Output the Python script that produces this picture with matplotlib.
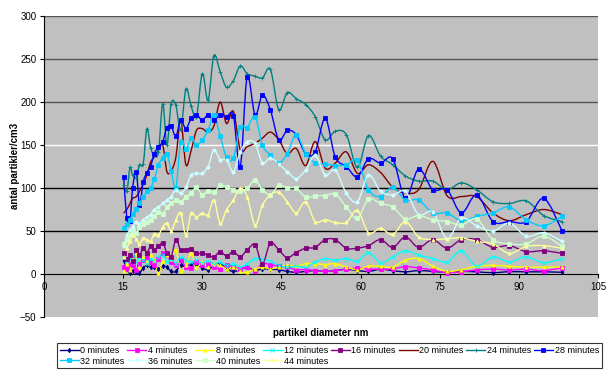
import matplotlib
matplotlib.use('Agg')
import matplotlib.pyplot as plt
from matplotlib.path import Path
from matplotlib.patches import PathPatch
from matplotlib.lines import Line2D

plt.rcParams['font.family'] = ['Liberation Sans', 'DejaVu Sans']

# SMPS channel midpoints (nm)
diameter = [15.1, 15.7, 16.3, 16.8, 17.5, 18.1, 18.8, 19.5, 20.2, 20.9, 21.7, 22.5, 23.3, 24.1,
            25.0, 25.9, 26.9, 27.9, 28.9, 30.0, 31.1, 32.2, 33.4, 34.6, 35.9, 37.2, 38.5, 40.0,
            41.4, 42.9, 44.5, 46.1, 47.8, 49.6, 51.4, 53.3, 55.2, 57.3, 59.4, 61.5, 63.8, 66.1,
            68.5, 71.0, 73.7, 76.4, 79.1, 82.0, 85.1, 88.2, 91.4, 94.7, 98.2]

min_0 = [16, 6, 1, 4, 2, 1, 7, 10, 8, 8.5, 6, 9, 8, 3, 3, 10.5, 8, 12, 12, 7, 5, 10, 12, 6, 3, 5,
         8, 4, 6, 5.5, 5, 3, 2, 3, 4, 3, 4, 5.5, 4, 3, 5.5, 4, 2.5, 4, 3, 2, 3, 2.5, 1.5, 2.7,
         2.5, 2.5, 2]
min_4 = [8, 6, 12, 10, 5, 12, 16, 20, 14, 10, 18, 24, 22, 14, 10, 16, 8, 7, 14, 10, 12, 8, 6, 10,
         8, 6, 8, 4, 12, 11, 9, 8, 5, 5, 4, 3, 4, 5.5, 7, 6, 5.5, 6, 8.5, 7, 4.6, 1.5, 2.7, 4.6,
         5.8, 4.6, 5.5, 3.9, 7.3]
min_8 = [3, 12, 5, 18, 24, 8, 20, 14, 22, 16, 1, 15, 22, 18, 28, 3, 10, 24, 8, 14, 8, 12, 10, 6,
         8, 3, 2, 6, 8, 6, 8, 10, 9, 12, 12, 11, 12, 8, 5, 9, 9, 8, 16, 18, 9, 3, 5, 9, 10, 9, 8,
         8, 8]
min_12 = [20, 15, 18, 22, 14, 20, 16, 12, 18, 15, 20, 22, 14, 18, 12, 20, 16, 14, 16, 13, 15, 12,
          14, 10, 12, 8, 12, 18, 17, 15, 10, 8, 9, 8, 14, 18, 16, 18, 15, 25, 13, 20, 27, 22, 18,
          14, 27, 9, 20, 14, 20, 13, 18]
min_16 = [24, 18, 22, 15, 28, 22, 30, 25, 32, 28, 32, 36, 25, 20, 40, 28, 28, 29, 24, 24, 22, 20,
          26, 21, 26, 20, 28, 34, 12, 36, 28, 19, 25, 30, 31, 40, 40, 30, 30, 33, 40, 31, 43, 31,
          40, 30, 40, 40, 31, 33, 26, 27, 24]
min_20 = [71, 75, 82, 88, 90, 96, 105, 115, 130, 136, 144, 150, 119, 120, 136, 179, 127, 144, 167,
          169, 165, 172, 200, 175, 189, 144, 148, 152, 158, 165, 156, 140, 146, 126, 154, 123, 129,
          142, 117, 127, 118, 101, 94, 98, 131, 91, 90, 90, 71, 62, 69, 75, 69]
min_24 = [104, 96, 124, 115, 112, 127, 128, 169, 147, 138, 142, 198, 150, 198, 196, 167, 215, 195,
          183, 233, 202, 254, 235, 217, 225, 242, 233, 230, 228, 238, 191, 211, 204, 197, 183, 156,
          166, 162, 124, 161, 137, 127, 114, 108, 108, 98, 106, 98, 84, 82, 85, 68, 61]
min_28 = [113, 65, 62, 100, 119, 80, 107, 118, 125, 140, 148, 154, 170, 172, 160, 179, 169, 181,
          185, 179, 185, 179, 185, 183, 184, 125, 229, 185, 208, 191, 156, 167, 162, 140, 142, 181,
          136, 125, 113, 134, 129, 134, 88, 122, 98, 98, 71, 92, 61, 61, 61, 88, 50]
min_32 = [53, 58, 63, 70, 76, 82, 90, 96, 100, 110, 127, 135, 140, 120, 100, 154, 145, 158, 150,
          156, 167, 185, 160, 136, 135, 171, 170, 183, 150, 138, 129, 140, 162, 140, 129, 128, 126,
          127, 132, 98, 90, 101, 86, 86, 71, 71, 62, 67, 71, 78, 63, 56, 67]
min_36 = [32, 45, 51, 55, 61, 58, 63, 66, 69, 75, 78, 82, 86, 90, 98, 94, 101, 115, 117, 117, 125,
          144, 133, 133, 119, 142, 154, 152, 129, 135, 128, 119, 111, 121, 138, 115, 121, 94, 84,
          115, 96, 92, 96, 69, 72, 41, 65, 56, 50, 59, 44, 48, 38]
min_40 = [35, 40, 45, 50, 48, 55, 58, 61, 63, 68, 72, 70, 78, 82, 86, 84, 90, 94, 101, 92, 97, 95,
          103, 101, 98, 96, 100, 109, 98, 92, 103, 100, 100, 89, 91, 91, 93, 78, 65, 87, 82, 78,
          64, 68, 63, 61, 57, 64, 40, 35, 35, 44, 32]
min_44 = [20, 30, 38, 45, 41, 35, 42, 40, 38, 47, 45, 55, 59, 50, 63, 71, 45, 71, 66, 71, 69, 86,
          59, 75, 86, 100, 90, 57, 80, 92, 95, 84, 71, 84, 61, 63, 60, 60, 74, 48, 53, 46, 61, 43,
          40, 41, 42, 38, 35, 24, 32, 33, 30]

labels = ['0 minutes', '4 minutes', '8 minutes', '12 minutes', '16 minutes', '20 minutes',
          '24 minutes', '28 minutes', '32 minutes', '36 minutes', '40 minutes', '44 minutes']
series = [min_0, min_4, min_8, min_12, min_16, min_20, min_24, min_28, min_32, min_36, min_40, min_44]
colors = ['#000080', '#ff00ff', '#ffff00', '#00ffff', '#800080', '#800000',
          '#008080', '#0000ff', '#00ccff', '#ccffff', '#ccffcc', '#ffff99']
markers = ['d', 's', '^', 'x', 's', None, '+', 's', 's', 'o', 's', '^']


def smooth_path(x, y):
    # Catmull-Rom style bezier segments through every point
    pts = list(zip(x, y))
    n = len(pts)
    verts = [pts[0]]
    codes = [Path.MOVETO]
    for i in range(n - 1):
        p0 = pts[i - 1] if i > 0 else pts[i]
        p1 = pts[i]
        p2 = pts[i + 1]
        p3 = pts[i + 2] if i + 2 < n else pts[i + 1]
        c1 = (p1[0] + (p2[0] - p0[0]) / 6, p1[1] + (p2[1] - p0[1]) / 6)
        c2 = (p2[0] - (p3[0] - p1[0]) / 6, p2[1] - (p3[1] - p1[1]) / 6)
        verts += [c1, c2, p2]
        codes += [Path.CURVE4] * 3
    return Path(verts, codes)


fig = plt.figure(figsize=(6.11, 3.71), dpi=100)
ax = fig.add_axes([44 / 611, 1 - 317 / 371, 554 / 611, 301 / 371])
ax.set_facecolor('#c0c0c0')
ax.set_xlim(0, 105)
ax.set_ylim(-50, 300)

grid_colors = {300: '#555555', 250: '#555555', 200: '#555555', 150: '#ffffff', 100: '#000000', 50: '#000000'}
for level, c in grid_colors.items():
    ax.axhline(level, color=c, lw=1.0, zorder=1)

handles = []
for vals, lab, col, mk in zip(series, labels, colors, markers):
    ax.add_patch(PathPatch(smooth_path(diameter, vals), fill=False, edgecolor=col, lw=1.0, zorder=3))
    if mk is not None:
        ax.plot(diameter, vals, ls='none', marker=mk, color=col, ms=2.3, mew=0.6, zorder=4)
    handles.append(Line2D([], [], color=col, lw=1.0, marker=mk, ms=2.3, mew=0.6))

for s in ['top', 'right']:
    ax.spines[s].set_visible(False)
ax.spines['bottom'].set_position(('data', 0))
ax.spines['left'].set_color('black')
ax.spines['bottom'].set_color('black')
ax.set_xticks(range(0, 106, 15))
ax.set_yticks(range(-50, 301, 50))
ax.tick_params(labelsize=7, length=3, width=0.8, pad=2.5, direction='out', colors='black')

fig.text(321 / 611, 1 - 333 / 371, 'partikel diameter nm', ha='center', va='center',
         fontsize=7, fontweight='bold')
fig.text(15 / 611, 1 - 166 / 371, 'antal partikler/cm3', ha='center', va='center',
         fontsize=7, fontweight='bold', rotation=90)

# two rows: first eight series on top, remaining four underneath
order = [0, 8, 1, 9, 2, 10, 3, 11, 4, 5, 6, 7]
leg = fig.legend([handles[i] for i in order], [labels[i] for i in order], ncol=8,
                 loc='upper left', bbox_to_anchor=(57 / 611, 1 - 343 / 371), borderaxespad=0,
                 fontsize=6.5, frameon=True, fancybox=False, edgecolor='black',
                 handlelength=2.1, handletextpad=0.2, columnspacing=0.3,
                 labelspacing=0.2, borderpad=0.3)
leg.get_frame().set_linewidth(0.8)

fig.savefig('out.png', dpi=100)
